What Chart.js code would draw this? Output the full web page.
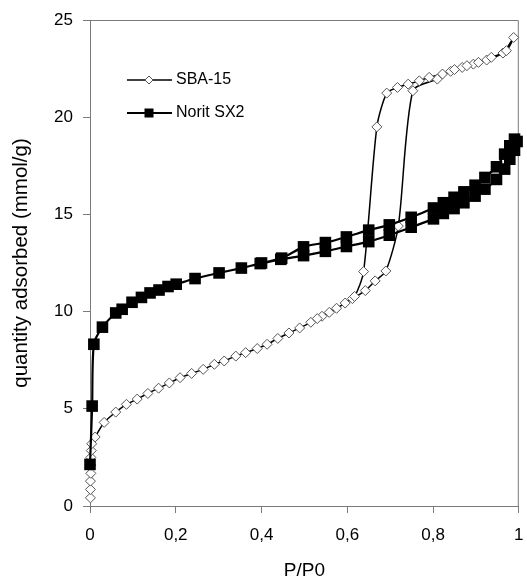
<!DOCTYPE html>
<html>
<head>
<meta charset="utf-8">
<title>Isoterm</title>
<script src="https://cdn.jsdelivr.net/npm/chart.js@4.4.0/dist/chart.umd.min.js"></script>
<style>
  html, body { margin: 0; padding: 0; background: #fff; }
  #wrap { width: 527px; height: 578px; }
</style>
</head>
<body>
<div id="wrap"><canvas id="isoChart" width="527" height="578"></canvas></div>
<script>
// DATA

// SBA-15: cabang adsorpsi lalu desorpsi
const sbaAdsP = [0.001, 0.001, 0.001, 0.002, 0.002, 0.002, 0.003, 0.004, 0.012, 0.033, 0.060, 0.085, 0.110, 0.135, 0.160, 0.185, 0.210, 0.237, 0.264, 0.290, 0.313, 0.340, 0.363, 0.390, 0.413, 0.438, 0.464, 0.489, 0.515, 0.541, 0.575, 0.612, 0.642, 0.665, 0.690, 0.719, 0.753, 0.810, 0.841, 0.868, 0.894, 0.925, 0.963, 0.988];
const sbaAdsQ = [0.42, 0.85, 1.28, 1.68, 2.10, 2.50, 2.85, 3.20, 3.55, 4.30, 4.83, 5.23, 5.50, 5.79, 6.06, 6.33, 6.60, 6.82, 7.03, 7.29, 7.46, 7.71, 7.89, 8.10, 8.32, 8.62, 8.90, 9.16, 9.45, 9.76, 10.17, 10.67, 11.08, 11.58, 12.09, 14.40, 21.36, 21.96, 22.36, 22.56, 22.73, 22.94, 23.30, 24.10];
const sbaDesP = [0.971, 0.936, 0.906, 0.879, 0.850, 0.822, 0.791, 0.768, 0.742, 0.717, 0.692, 0.669, 0.638, 0.617, 0.595, 0.558, 0.530];
const sbaDesQ = [23.42, 23.08, 22.82, 22.65, 22.45, 22.22, 22.05, 21.87, 21.70, 21.53, 21.24, 19.50, 12.06, 10.78, 10.44, 9.96, 9.64];

// Norit SX2: cabang adsorpsi lalu desorpsi
const noritAdsP = [0.000, 0.005, 0.009, 0.029, 0.060, 0.075, 0.098, 0.120, 0.140, 0.161, 0.182, 0.201, 0.245, 0.301, 0.353, 0.397, 0.445, 0.498, 0.549, 0.598, 0.650, 0.698, 0.749, 0.801, 0.824, 0.849, 0.872, 0.898, 0.921, 0.948, 0.967, 0.979, 0.990, 0.996];
const noritAdsQ = [2.14, 5.14, 8.32, 9.20, 9.93, 10.12, 10.48, 10.73, 10.96, 11.11, 11.29, 11.41, 11.70, 11.99, 12.24, 12.47, 12.69, 12.88, 13.10, 13.35, 13.60, 13.93, 14.34, 14.77, 15.05, 15.30, 15.60, 15.94, 16.30, 16.80, 17.33, 17.84, 18.30, 18.75];
const noritDesP = [0.990, 0.979, 0.967, 0.948, 0.921, 0.898, 0.872, 0.849, 0.824, 0.801, 0.749, 0.698, 0.650, 0.598, 0.549, 0.498, 0.447, 0.400];
const noritDesQ = [18.87, 18.53, 18.10, 17.45, 16.90, 16.50, 16.16, 15.88, 15.60, 15.33, 14.85, 14.46, 14.19, 13.84, 13.55, 13.33, 12.75, 12.50];

const seriesNames = ['SBA-15', 'Norit SX2'];
const xTickValues = [0, 0.2, 0.4, 0.6, 0.8, 1];
const yTickValues = [0, 5, 10, 15, 20, 25];

const FONT = '"Liberation Sans", Arial, sans-serif';

// gabungkan cabang jadi satu loop {x, y}
function toPoints(pa, qa, pd, qd) {
    const pts = [];
    for (let i = 0; i < pa.length; i++) pts.push({ x: pa[i], y: qa[i] });
    for (let i = 0; i < pd.length; i++) pts.push({ x: pd[i], y: qd[i] });
    return pts;
}

function fmtTick(v) {
    return String(Math.round(v * 10) / 10).replace('.', ',');
}

// kotak atas & kanan area plot
const frameBox = {
    id: 'frameBox',
    beforeDatasetsDraw(chart) {
        const a = chart.chartArea;
        const ctx = chart.ctx;
        ctx.save();
        ctx.strokeStyle = '#7a7a7a';
        ctx.lineWidth = 1;
        ctx.beginPath();
        ctx.moveTo(a.left, a.top + 0.5);
        ctx.lineTo(a.right - 0.5, a.top + 0.5);
        ctx.lineTo(a.right - 0.5, a.bottom);
        ctx.stroke();
        ctx.restore();
    }
};

// legenda di dalam area plot (garis + penanda)
const insideLegend = {
    id: 'insideLegend',
    afterDraw(chart) {
        const a = chart.chartArea;
        const ctx = chart.ctx;
        const x0 = a.left + 37, x1 = a.left + 82, xm = a.left + 59;
        chart.data.datasets.forEach((ds, i) => {
            const y = a.top + 60 + i * 33;
            ctx.save();
            ctx.strokeStyle = '#000';
            ctx.lineWidth = ds.borderWidth;
            ctx.beginPath();
            ctx.moveTo(x0, y);
            ctx.lineTo(x1, y);
            ctx.stroke();
            if (ds.pointStyle === 'rectRot') {
                ctx.beginPath();
                ctx.moveTo(xm, y - 4);
                ctx.lineTo(xm + 4, y);
                ctx.lineTo(xm, y + 4);
                ctx.lineTo(xm - 4, y);
                ctx.closePath();
                ctx.fillStyle = '#fff';
                ctx.fill();
                ctx.strokeStyle = '#555';
                ctx.lineWidth = 1;
                ctx.stroke();
            } else {
                ctx.fillStyle = '#000';
                ctx.fillRect(xm - 4.5, y - 4.5, 9, 9);
            }
            ctx.fillStyle = '#000';
            ctx.font = '16px ' + FONT;
            ctx.textBaseline = 'middle';
            ctx.textAlign = 'left';
            ctx.fillText(ds.label, x1 + 4, y);
            ctx.restore();
        });
    }
};

const ctx = document.getElementById('isoChart').getContext('2d');
const isoChart = new Chart(ctx, {
    type: 'scatter',
    data: {
        datasets: [
            {
                label: seriesNames[0],
                data: toPoints(sbaAdsP, sbaAdsQ, sbaDesP, sbaDesQ),
                showLine: true,
                borderColor: '#000',
                borderWidth: 1.5,
                tension: 0.25,
                pointStyle: 'rectRot',
                pointRadius: 5,
                pointBackgroundColor: '#fff',
                pointBorderColor: '#555',
                pointBorderWidth: 1,
                clip: false,
                order: 1
            },
            {
                label: seriesNames[1],
                data: toPoints(noritAdsP, noritAdsQ, noritDesP, noritDesQ),
                showLine: true,
                borderColor: '#000',
                borderWidth: 2.2,
                tension: 0.25,
                pointStyle: 'rect',
                pointRadius: 8.2,
                pointBackgroundColor: '#000',
                pointBorderColor: '#000',
                pointBorderWidth: 0,
                clip: false,
                order: 0
            }
        ]
    },
    options: {
        responsive: false,
        animation: false,
        devicePixelRatio: 1,
        layout: { padding: { top: 20, right: 1, left: 0, bottom: 0 } },
        plugins: {
            legend: { display: false },
            tooltip: { enabled: false }
        },
        scales: {
            x: {
                type: 'linear',
                min: 0,
                max: 1,
                afterBuildTicks: (s) => { s.ticks = xTickValues.map(v => ({ value: v })); },
                afterFit: (s) => { s.height = 72; s.paddingLeft = 0; s.paddingRight = 0; },
                ticks: { callback: fmtTick, color: '#000', font: { family: FONT, size: 17 }, padding: 12, maxRotation: 0 },
                grid: { drawOnChartArea: false, tickLength: 7, color: '#7a7a7a' },
                border: { color: '#7a7a7a', width: 1 },
                title: { display: true, text: 'P/P0', color: '#000', font: { family: FONT, size: 19, lineHeight: 0.8 }, padding: { top: 0, bottom: 0 } }
            },
            y: {
                type: 'linear',
                min: 0,
                max: 25,
                afterBuildTicks: (s) => { s.ticks = yTickValues.map(v => ({ value: v })); },
                afterFit: (s) => { s.width = 90; s.paddingTop = 0; s.paddingBottom = 0; },
                ticks: { color: '#000', font: { family: FONT, size: 17 }, padding: 10 },
                grid: { drawOnChartArea: false, tickLength: 7, color: '#7a7a7a' },
                border: { color: '#7a7a7a', width: 1 },
                title: { display: true, text: 'quantity adsorbed (mmol/g)', color: '#000', font: { family: FONT, size: 20.5 }, padding: { top: 9, bottom: 0 } }
            }
        }
    },
    plugins: [frameBox, insideLegend]
});
</script>
</body>
</html>
